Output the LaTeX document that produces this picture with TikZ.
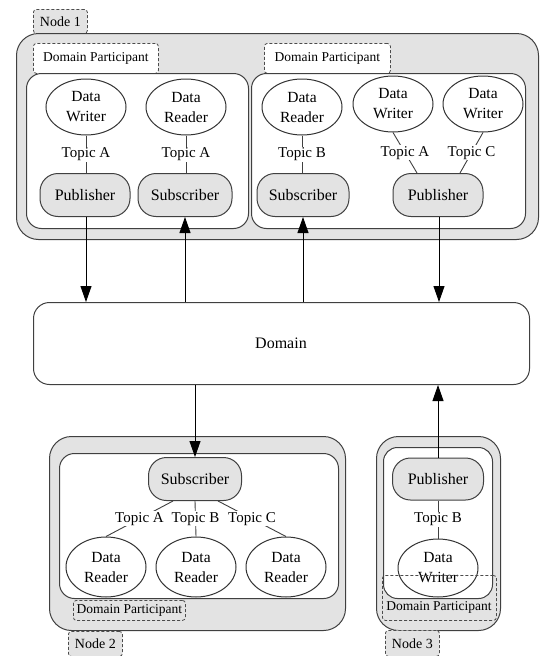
\documentclass[tikz,border=0pt]{standalone}
\usepackage{fontspec}
\setmainfont{Liberation Serif}
\usetikzlibrary{shapes.geometric,arrows.meta}
\begin{document}
\begin{tikzpicture}[x=1pt,y=-1pt,
  line width=1pt,
  nodebox/.style={draw=black!75, fill=gray!22, rounded corners=22pt, inner sep=0pt, anchor=north west},
  dpbox/.style={draw=black!75, fill=white, rounded corners=15pt, inner sep=0pt, anchor=north west},
  tag/.style={draw=black!70, line width=0.8pt, dash pattern=on 3pt off 2pt, rounded corners=3pt, inner sep=0pt, anchor=north west, font=\fontsize{13.5}{16}\selectfont},
  ntag/.style={tag, fill=gray!22, font=\fontsize{14}{16}\selectfont},
  ent/.style={ellipse, draw=black!80, fill=white, minimum width=80pt, minimum height=56pt, inner sep=0pt, align=center, font=\fontsize{15.5}{20}\selectfont},
  ps/.style={draw=black!75, fill=gray!22, rounded corners=18pt, minimum height=43pt, inner sep=0pt, font=\fontsize{16}{19}\selectfont},
  topic/.style={fill=white, inner sep=1pt, font=\fontsize{15}{18}\selectfont},
  link/.style={draw=black!75, line width=0.9pt},
  arr/.style={draw=black, line width=0.9pt, -{Triangle[length=16pt,width=11pt]}},
]
\useasboundingbox (0,0) rectangle (539,656);

% ---------------- Node 1 ----------------
\node[ntag, minimum width=54pt, minimum height=24pt] (n1tag) at (33,9) {Node 1};
\node[nodebox, minimum width=522pt, minimum height=206pt] (n1) at (16,33) {};
\node[tag, fill=white, minimum width=125pt, minimum height=30pt] (dp1tag) at (33,43) {Domain Participant};
\node[tag, fill=white, minimum width=126pt, minimum height=30pt] (dp2tag) at (264,43) {Domain Participant};
\node[dpbox, minimum width=222pt, minimum height=155pt] (dp1) at (26,73) {};
\node[dpbox, minimum width=274pt, minimum height=155pt] (dp2) at (251,73) {};

\node[ent] (dw1) at (86,107) {Data\\Writer};
\node[ent] (dr1) at (186,107) {Data\\Reader};
\node[ent] (dr2) at (302,107) {Data\\Reader};
\node[ent] (dw2) at (393,104) {Data\\Writer};
\node[ent] (dw3) at (483,104) {Data\\Writer};

\node[ps, minimum width=90pt] (pub1) at (85,195) {Publisher};
\node[ps, minimum width=94pt] (sub1) at (185,195) {Subscriber};
\node[ps, minimum width=92pt] (sub2) at (303,195) {Subscriber};
\node[ps, minimum width=90pt] (pub2) at (438,195) {Publisher};

\draw[link] (dw1.south) -- node[topic]{Topic A} (dw1.south |- pub1.north);
\draw[link] (dr1.south) -- node[topic]{Topic A} (dr1.south |- sub1.north);
\draw[link] (dr2.south) -- node[topic]{Topic B} (dr2.south |- sub2.north);
\draw[link] (dw2.south) -- node[topic]{Topic A} ([xshift=-21pt]pub2.north);
\draw[link] (dw3.south) -- node[topic]{Topic C} ([xshift=22pt]pub2.north);

% ---------------- Domain ----------------
\node[draw=black!75, fill=white, rounded corners=16pt, inner sep=0pt, anchor=north west,
      minimum width=496pt, minimum height=82pt] (dom) at (33,302) {};
\node[font=\fontsize{16}{19}\selectfont] (domtxt) at (281,343) {Domain};

\draw[arr] ([xshift=1pt]pub1.south) -- ([xshift=1pt]pub1.south |- dom.north);
\draw[arr] (sub1.south |- dom.north) -- (sub1.south);
\draw[arr] (sub2.south |- dom.north) -- (sub2.south);
\draw[arr] ([xshift=1pt]pub2.south) -- ([xshift=1pt]pub2.south |- dom.north);

% ---------------- Node 2 ----------------
\node[nodebox, minimum width=296pt, minimum height=194pt] (n2) at (49,436) {};
\node[dpbox, minimum width=279pt, minimum height=145pt] (dp3) at (59,453) {};
\node[ps, minimum width=93pt] (sub3) at (195,479) {Subscriber};
\node[ent, minimum height=60pt] (dra) at (106,567) {Data\\Reader};
\node[ent, minimum height=60pt] (drb) at (196,567) {Data\\Reader};
\node[ent, minimum height=60pt] (drc) at (286,567) {Data\\Reader};
\draw[link] ([xshift=-22pt]sub3.south) -- node[topic]{Topic A} (dra.north);
\draw[link] (sub3.south) -- node[topic]{Topic B} (drb.north);
\draw[link] ([xshift=23pt]sub3.south) -- node[topic]{Topic C} (drc.north);
\node[tag, minimum width=112pt, minimum height=20pt] (dp3tag) at (73,600) {Domain Participant};
\node[ntag, minimum width=54pt, minimum height=25pt] (n2tag) at (68,631) {Node 2};
\draw[arr] (sub3.north |- dom.south) -- (sub3.north);

% ---------------- Node 3 ----------------
\node[nodebox, minimum width=124pt, minimum height=194pt] (n3) at (376,436) {};
\node[dpbox, minimum width=109pt, minimum height=151pt, rounded corners=14pt] (dp4) at (383,447) {};
\node[ps, minimum width=91pt, minimum height=42pt] (pub3) at (438,479) {Publisher};
\node[ent, minimum height=58pt] (dw4) at (438,568) {Data\\Writer};
\draw[link] (pub3.south) -- node[topic]{Topic B} (dw4.north);
\node[tag, minimum width=114pt, minimum height=45pt] (dp4tag) at (382,575) {};
\node[font=\fontsize{13.5}{16}\selectfont] (dp4txt) at (439,607) {Domain Participant};
\node[ntag, minimum width=54pt, minimum height=26pt] (n3tag) at (385,630) {Node 3};
\draw[arr] (pub3.north) -- (pub3.north |- dom.south);
\end{tikzpicture}
\end{document}
